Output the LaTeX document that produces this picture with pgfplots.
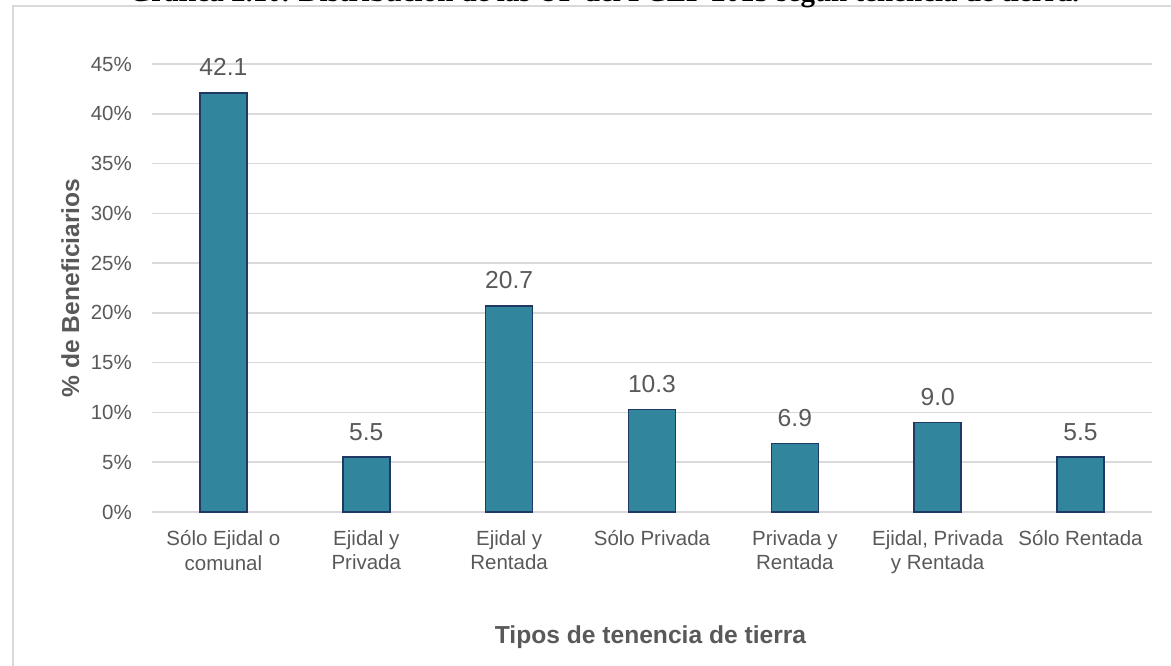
\documentclass[border=0pt]{standalone}
\usepackage{pgfplots}
\pgfplotsset{compat=1.18}
\usepackage{fontspec}
\setmainfont{Liberation Sans}
\newfontfamily\titlefont{Liberation Serif}
\definecolor{barFill}{HTML}{31859C}
\definecolor{barEdge}{HTML}{1F3864}
\definecolor{txtGray}{HTML}{595959}
\definecolor{gridGray}{HTML}{D9D9D9}

\begin{document}
\begin{tikzpicture}[x=1pt,y=1pt]
\path[use as bounding box] (0,0) rectangle (1171,665);
\clip (0,0) rectangle (1171,665);
% outer chart frame, cut by the page
\draw[gridGray, line width=2pt] (13,-5) -- (13,659) -- (1180,659);
% caption above, mostly cut off
\node[anchor=base, inner sep=0pt, font=\titlefont\bfseries\fontsize{29}{33}\selectfont]
  at (604,663) {Gráfica 2.10. Distribución de las UP del PCEF 2015 según tenencia de tierra.};
\begin{axis}[
    at={(152pt,153pt)}, anchor=south west,
    width=1000pt, height=448pt, scale only axis,
    ybar, bar width=47pt,
    xmin=-0.5, xmax=6.5,
    ymin=0, ymax=45,
    axis x line*=bottom, axis y line*=left,
    y axis line style={draw=none},
    x axis line style={gridGray, line width=1.5pt},
    xtick style={draw=none}, ytick style={draw=none},
    ymajorgrids=true,
    grid style={gridGray, line width=1.5pt},
    xtick={0,...,6},
    xticklabels={{Sólo Ejidal o\\comunal},{Ejidal y\\Privada},{Ejidal y\\Rentada},{Sólo Privada},{Privada y\\Rentada},{Ejidal, Privada\\y Rentada},{Sólo Rentada}},
    ytick={0,5,...,45},
    yticklabel={\pgfmathprintnumber{\tick}\%},
    /pgf/number format/assume math mode=true,
    xticklabel style={align=center, anchor=north, inner sep=0pt, yshift=-14pt,
      font=\fontsize{20.5}{24.6}\selectfont, text=txtGray},
    yticklabel style={anchor=east, inner sep=0pt, xshift=-20pt,
      font=\fontsize{20.5}{24.6}\selectfont, text=txtGray},
    xlabel={Tipos de tenencia de tierra},
    ylabel={\% de Beneficiarios},
    every axis x label/.style={at={(axis description cs:0.4985,-0.2925)}, anchor=base,
      font=\bfseries\fontsize{24.6}{29}\selectfont, text=txtGray},
    every axis y label/.style={at={(axis description cs:-0.073,0.5)}, rotate=90, anchor=base,
      font=\bfseries\fontsize{24.6}{29}\selectfont, text=txtGray},
    nodes near coords={\pgfmathprintnumber[fixed,fixed zerofill,precision=1]{\pgfplotspointmeta}},
    every node near coord/.append style={anchor=base, yshift=17pt,
      font=\fontsize{24.6}{29}\selectfont, text=txtGray},
    clip=false,
  ]
  \addplot[fill=barFill, draw=barEdge, line width=1.5pt] coordinates {
    (0,42.1) (1,5.5) (2,20.7) (3,10.3) (4,6.9) (5,9.0) (6,5.5)
  };
\end{axis}
\end{tikzpicture}
\end{document}
